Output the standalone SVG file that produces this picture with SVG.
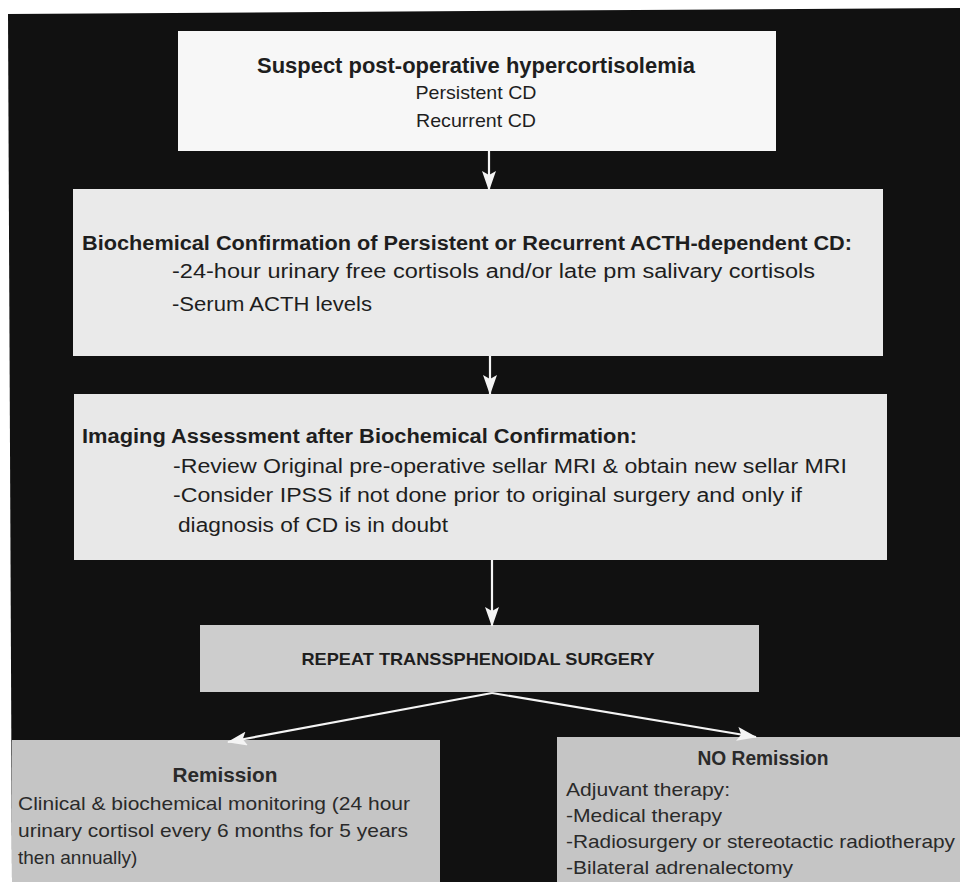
<svg xmlns="http://www.w3.org/2000/svg" width="960" height="882" viewBox="0 0 960 882">
<style>
text{font-family:"Liberation Sans",Arial,sans-serif;fill:#1e1e1e}
.b{font-weight:bold}
.t1{font-size:22px}
.r{font-size:19px}
.h{font-size:20px}
.lo text{fill:#2a2a2a}
.conn line{stroke:#f4f4f4;stroke-width:2.2}
</style>
<defs>
<marker id="ah" markerUnits="userSpaceOnUse" markerWidth="20" markerHeight="14" viewBox="0 0 20 14" refX="19" refY="7" orient="auto">
<path d="M0,0 L20,7 L0,14 L4,7 Z" fill="#f4f4f4"/>
</marker>
</defs>
<rect width="960" height="882" fill="#ffffff"/>
<polygon points="8,14 960,8 960,882 12,882" fill="#111111"/>

<g id="n1">
<rect x="178" y="31" width="598" height="120" fill="#f7f7f7"/>
<text class="b t1" x="476" y="73" text-anchor="middle" textLength="438" lengthAdjust="spacingAndGlyphs">Suspect post-operative hypercortisolemia</text>
<text class="r" x="476" y="99" text-anchor="middle" textLength="121" lengthAdjust="spacingAndGlyphs">Persistent CD</text>
<text class="r" x="476" y="127" text-anchor="middle" textLength="120" lengthAdjust="spacingAndGlyphs">Recurrent CD</text>
</g>

<g id="n2">
<rect x="73" y="189" width="810" height="167" fill="#eaeaea"/>
<text class="b h" x="82" y="250" textLength="770" lengthAdjust="spacingAndGlyphs">Biochemical Confirmation of Persistent or Recurrent ACTH-dependent CD:</text>
<text class="h" x="172" y="278" textLength="643" lengthAdjust="spacingAndGlyphs">-24-hour urinary free cortisols and/or late pm salivary cortisols</text>
<text class="h" x="172" y="311" textLength="200" lengthAdjust="spacingAndGlyphs">-Serum ACTH levels</text>
</g>

<g id="n3">
<rect x="74" y="394" width="813" height="166" fill="#e8e8e8"/>
<text class="b h" x="82" y="443" textLength="555" lengthAdjust="spacingAndGlyphs">Imaging Assessment after Biochemical Confirmation:</text>
<text class="h" x="173" y="473" textLength="674" lengthAdjust="spacingAndGlyphs">-Review Original pre-operative sellar MRI &amp; obtain new sellar MRI</text>
<text class="h" x="173" y="502" textLength="629" lengthAdjust="spacingAndGlyphs">-Consider IPSS if not done prior to original surgery and only if</text>
<text class="h" x="178" y="532" textLength="270" lengthAdjust="spacingAndGlyphs">diagnosis of CD is in doubt</text>
</g>

<g id="n4">
<rect x="200" y="625" width="559" height="67" fill="#cdcdcd"/>
<text class="b" font-size="17" x="478" y="665" text-anchor="middle" textLength="353" lengthAdjust="spacingAndGlyphs">REPEAT TRANSSPHENOIDAL SURGERY</text>
</g>

<g id="n5" class="lo">
<rect x="12" y="740" width="428" height="142" fill="#c5c5c5"/>
<text class="b h" x="225" y="782" text-anchor="middle" textLength="105" lengthAdjust="spacingAndGlyphs">Remission</text>
<text class="r" x="18" y="810" textLength="392" lengthAdjust="spacingAndGlyphs">Clinical &amp; biochemical monitoring (24 hour</text>
<text class="r" x="18" y="837" textLength="390" lengthAdjust="spacingAndGlyphs">urinary cortisol every 6 months for 5 years</text>
<text class="r" x="18" y="864">then annually)</text>
</g>

<g id="n6" class="lo">
<rect x="557" y="737" width="403" height="145" fill="#c5c5c5"/>
<text class="b h" x="763" y="765" text-anchor="middle" textLength="131" lengthAdjust="spacingAndGlyphs">NO Remission</text>
<text class="r" x="566" y="796" textLength="164" lengthAdjust="spacingAndGlyphs">Adjuvant therapy:</text>
<text class="r" x="566" y="822" textLength="156" lengthAdjust="spacingAndGlyphs">-Medical therapy</text>
<text class="r" x="566" y="848" textLength="389" lengthAdjust="spacingAndGlyphs">-Radiosurgery or stereotactic radiotherapy</text>
<text class="r" x="566" y="874" textLength="227" lengthAdjust="spacingAndGlyphs">-Bilateral adrenalectomy</text>
</g>

<g id="connectors" class="conn">
<line x1="489" y1="151" x2="489" y2="190" marker-end="url(#ah)"/>
<line x1="490" y1="356" x2="490" y2="394" marker-end="url(#ah)"/>
<line x1="492" y1="560" x2="492" y2="626" marker-end="url(#ah)"/>
<line x1="492" y1="693" x2="228" y2="742" marker-end="url(#ah)"/>
<line x1="492" y1="693" x2="756" y2="737" marker-end="url(#ah)"/>
</g>
</svg>
